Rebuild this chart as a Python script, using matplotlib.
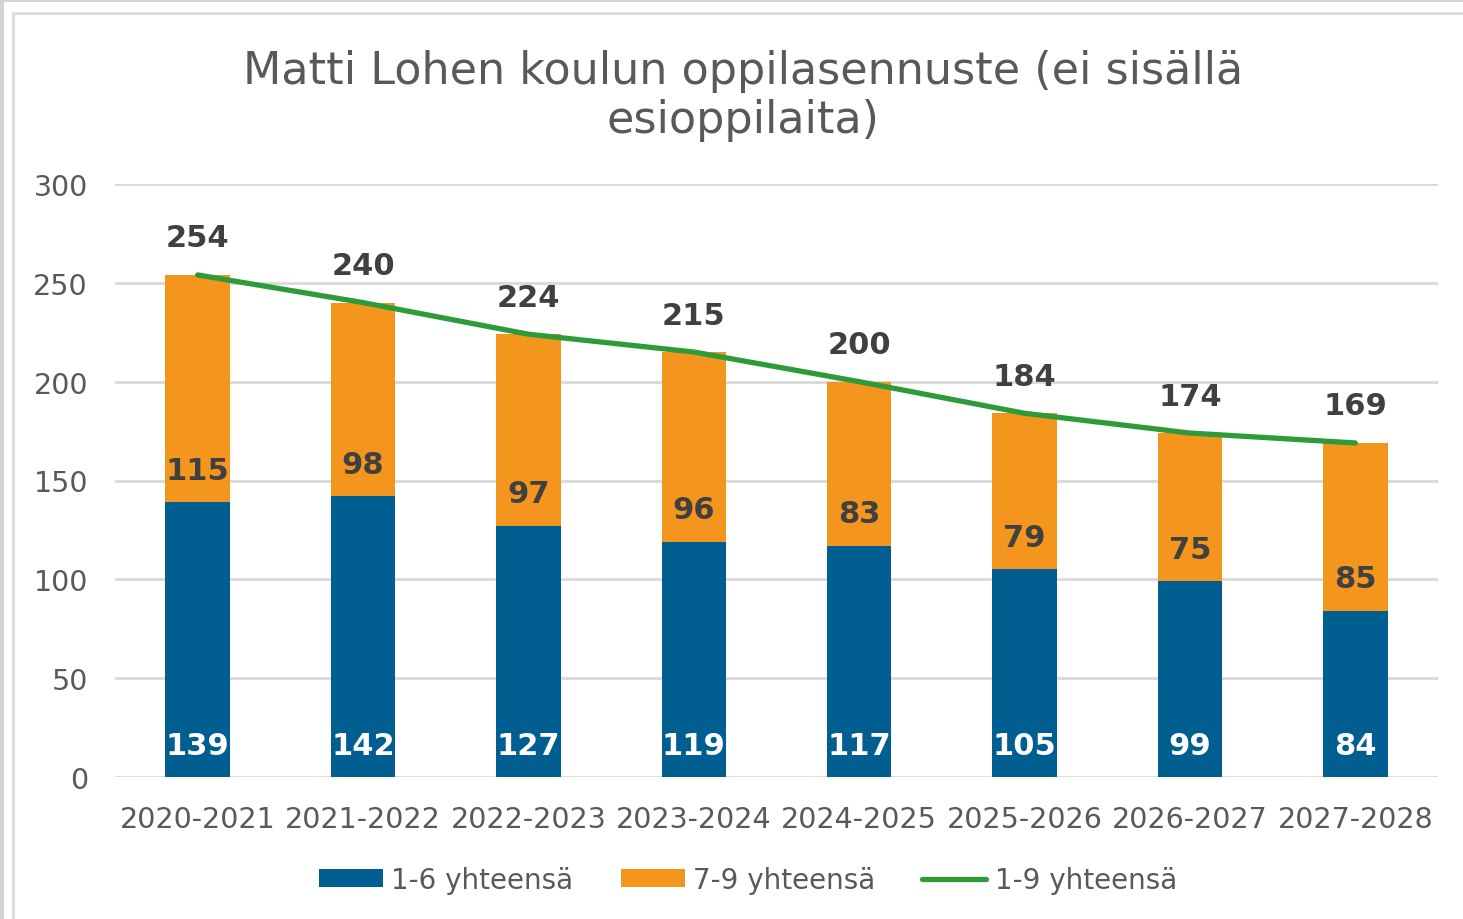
import matplotlib
matplotlib.use("Agg")
import matplotlib.pyplot as plt
from matplotlib.patches import Rectangle
from matplotlib.lines import Line2D

categories = ["2020-2021", "2021-2022", "2022-2023", "2023-2024",
              "2024-2025", "2025-2026", "2026-2027", "2027-2028"]
grades_1_6 = [139, 142, 127, 119, 117, 105, 99, 84]
grades_7_9 = [115, 98, 97, 96, 83, 79, 75, 85]
totals_1_9 = [254, 240, 224, 215, 200, 184, 174, 169]
yticks = [0, 50, 100, 150, 200, 250, 300]

title = "Matti Lohen koulun oppilasennuste (ei sisällä\nesioppilaita)"
legend_labels = ["1-6 yhteensä", "7-9 yhteensä", "1-9 yhteensä"]

BLUE = "#005E91"
ORANGE = "#F4961E"
GREEN = "#2E9B3A"
GRID = "#D9D9D9"
TXT = "#595959"
LBL = "#404040"

plt.rcParams["font.family"] = ["DejaVu Sans"]

W, H = 1463, 920
fig = plt.figure(figsize=(W / 100, H / 100), dpi=100)
fig.patch.set_facecolor("white")

# screenshot frame
fig.add_artist(Rectangle((0, 0), 4 / W, 1, transform=fig.transFigure,
                         facecolor="#D4D4D4", edgecolor="none"))
fig.add_artist(Rectangle((0, 1 - 2.5 / H), 1, 2.5 / H, transform=fig.transFigure,
                         facecolor="#D4D4D4", edgecolor="none"))
fig.add_artist(Line2D([13.5 / W, 13.5 / W], [0, 1 - 14 / H], transform=fig.transFigure,
                      color="#DDDDDD", lw=2.2))
fig.add_artist(Line2D([13.5 / W, 1], [1 - 14 / H, 1 - 14 / H], transform=fig.transFigure,
                      color="#DDDDDD", lw=2.2))

ax = fig.add_axes([115 / W, 1 - 778 / H, (1438 - 115) / W, (778 - 185) / H])
x = list(range(len(categories)))
bw = 0.39

b1 = ax.bar(x, grades_1_6, width=bw, color=BLUE, zorder=2)
b2 = ax.bar(x, grades_7_9, width=bw, bottom=grades_1_6, color=ORANGE, zorder=2)
ln, = ax.plot(x, totals_1_9, color=GREEN, lw=3.8, zorder=3, solid_capstyle="round")

for i in x:
    ax.annotate(str(grades_1_6[i]), (i, 0), xytext=(0, 31), textcoords="offset pixels",
                ha="center", va="center", color="white", fontsize=22,
                fontweight="bold", zorder=4)
    ax.annotate(str(grades_7_9[i]), (i, grades_1_6[i]), xytext=(0, 32),
                textcoords="offset pixels", ha="center", va="center", color=LBL,
                fontsize=22, fontweight="bold", zorder=4)
    ax.annotate(str(totals_1_9[i]), (i, totals_1_9[i]), xytext=(0, 37),
                textcoords="offset pixels", ha="center", va="center", color=LBL,
                fontsize=22, fontweight="bold", zorder=4)

ax.set_xlim(-0.5, len(categories) - 0.5)
ax.set_ylim(0, 300)
ax.set_yticks(yticks)
ax.set_xticks(x)
ax.set_xticklabels(categories)
ax.tick_params(axis="both", length=0, labelsize=20.5, labelcolor=TXT)
ax.tick_params(axis="y", pad=19.5)
ax.tick_params(axis="x", pad=20.5)
ax.grid(axis="y", color=GRID, lw=2, zorder=0)
ax.set_axisbelow(True)
for s in ax.spines.values():
    s.set_visible(False)

fig.text(743 / W, 1 - 96 / H, title, ha="center", va="center", fontsize=32,
         color=TXT, linespacing=1.2)

leg = fig.legend([b1, b2, ln], legend_labels, loc="center",
                 bbox_to_anchor=(748 / W, 1 - 881 / H),
                 ncol=3, frameon=False, fontsize=20, handlelength=2.3,
                 handleheight=0.6, handletextpad=0.3, columnspacing=1.7,
                 labelcolor=TXT)

fig.savefig("out.png", dpi=100)
